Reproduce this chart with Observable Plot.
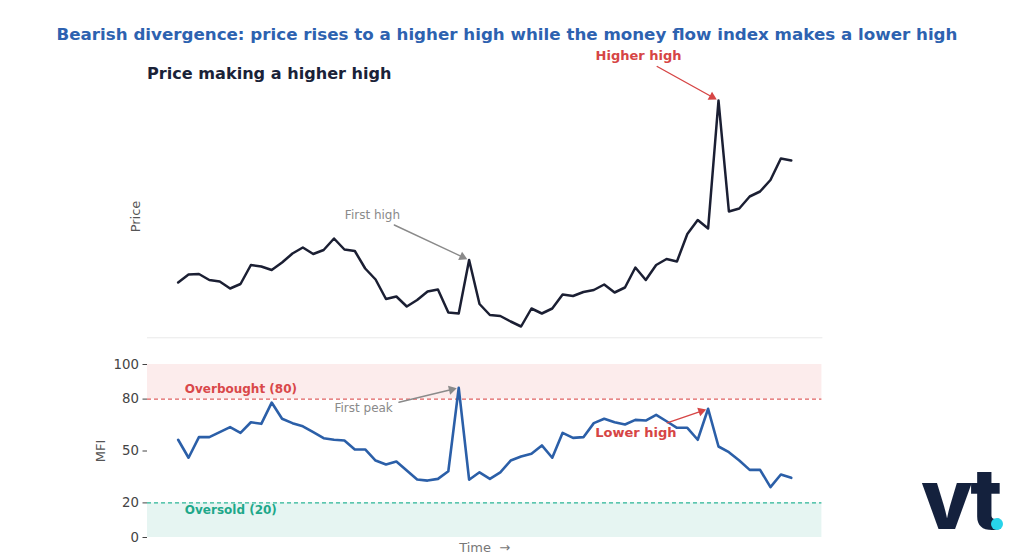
<!DOCTYPE html>
<html>
<head>
<meta charset="utf-8">
<script src="https://cdn.jsdelivr.net/npm/d3@7"></script>
<script src="https://cdn.jsdelivr.net/npm/@observablehq/plot@0.6"></script>
<style>
  html, body { margin: 0; padding: 0; background: #fff; }
  body { width: 1024px; height: 558px; position: relative; overflow: hidden; font-family: "DejaVu Sans", sans-serif; }
  .abs { position: absolute; }
  #title { top: 24px; left: 0; width: 1014px; text-align: center; font-weight: bold; font-size: 16.7px; line-height: 20px; color: #2d62b0; z-index: 5; white-space: nowrap; }
  #subtitle { top: 64px; left: 147px; font-weight: bold; font-size: 16.1px; line-height: 20px; color: #1a2238; z-index: 5; }
  #price { top: 40px; left: 0; }
  #mfi { top: 345px; left: 0; }
  #logo { top: 457px; left: 921px; font-family: Inter, sans-serif; font-weight: 800; font-size: 84px; line-height: 84px; color: #14213d; letter-spacing: -4px; z-index: 5; }
  #dot { top: 518px; left: 991px; width: 12px; height: 12px; border-radius: 50%; background: #27d3ea; z-index: 6; }
</style>
</head>
<body>
<div id="title" class="abs">Bearish divergence: price rises to a higher high while the money flow index makes a lower high</div>
<div id="subtitle" class="abs">Price making a higher high</div>
<div id="price" class="abs"></div>
<div id="mfi" class="abs"></div>
<div id="logo" class="abs">vt</div>
<div id="dot" class="abs"></div>
<script>
// ---- data ----
const price = [103.5,105.1,105.2,104.0,103.7,102.3,103.2,107.0,106.7,106.0,
  107.5,109.3,110.5,109.2,110.0,112.3,110.1,109.8,106.3,104.1,
  100.2,100.7,98.7,100.0,101.7,102.1,97.5,97.3,108.0,99.2,
  97.0,96.8,95.7,94.7,98.3,97.3,98.3,101.1,100.8,101.6,
  102.0,103.1,101.5,102.5,106.5,104.0,107.0,108.2,107.7,113.2,
  116.0,114.3,139.9,117.7,118.3,120.7,121.7,124.0,128.3,127.9];
const mfi = [56.5,46.1,58.0,58.0,60.9,63.8,60.5,66.6,65.7,78.0,
  68.6,66.1,64.3,60.9,57.4,56.5,56.1,50.9,50.9,44.5,
  42.2,43.9,38.7,33.5,32.9,33.9,38.3,86.5,33.4,37.7,
  33.9,37.7,44.5,46.8,48.4,53.2,46.1,60.5,57.6,58.0,
  66.1,68.6,66.6,65.3,68.0,67.6,70.9,67.2,63.4,63.4,
  56.5,74.4,52.6,49.3,44.5,39.1,39.1,29.1,36.4,34.5];
const mfiTicks = [0, 20, 50, 80, 100];

const levels = [
  {label: "Overbought (80)", level: 80, lo: 80, hi: 100, textY: 85.7, line: "#e06060", fill: "#fcecec", text: "#d9484a"},
  {label: "Oversold (20)", level: 20, lo: 0, hi: 20, textY: 15.9, line: "#2bb597", fill: "#e6f5f2", text: "#1ea88a"}
];

// annotations: text position and arrow start (data units), target index
const priceNotes = [
  {label: "First high", tx: 18.7, ty: 117.0, ax: 20.8, ay: 115.0, target: 28, color: "#8a8a8a", weight: "normal", size: 12},
  {label: "Higher high", tx: 44.3, ty: 148.9, ax: 46.1, ay: 146.7, target: 52, color: "#d64545", weight: "bold", size: 13}
];
const mfiNotes = [
  {label: "First peak", tx: 17.85, ty: 74.6, ax: 21.25, ay: 78.2, target: 27, color: "#8a8a8a", weight: "normal", size: 12},
  {label: "Lower high", tx: 44.05, ty: 60.7, ax: 47.06, ay: 66.3, target: 51, color: "#d64545", weight: "bold", size: 13}
];

// ---- scales ----
const n = price.length;
const idx = d3.range(n);
const xDomain = [-(n - 1) * 0.05, (n - 1) * 1.05];
const [pmin, pmax] = d3.extent(price);
const ppad = (pmax - pmin) * 0.05;
const yDomain = [pmin - ppad, pmax + ppad];

const W = 1024, ML = 147, MR = 1024 - 821.4;
const P = {height: 305, mt: 48.7, mb: 7.7};
const M = {height: 213, mt: 19, mb: 21};
const px = d3.scaleLinear(xDomain, [ML, W - MR]);
const pyPrice = d3.scaleLinear(yDomain, [P.height - P.mb, P.mt]);
const pyMfi = d3.scaleLinear([0, 100], [M.height - M.mb, M.mt]);

const priceRows = idx.map(i => ({i, v: price[i]}));
const mfiRows = idx.map(i => ({i, v: mfi[i]}));

function noteMarks(notes, series, py) {
  return notes.flatMap(d => {
    const sx = px(d.ax), sy = py(d.ay);
    const ex = px(d.target), ey = py(series[d.target]);
    const len = Math.hypot(ex - sx, ey - sy);
    const ux = (ex - sx) / len, uy = (ey - sy) / len;
    const inset = 2, r = 3.4;
    const A = Math.PI * r * r;
    const side = Math.sqrt(4 * A / Math.sqrt(3));
    const back = inset + side / Math.sqrt(3);
    const angle = Math.atan2(ux, -uy) * 180 / Math.PI;
    return [
      Plot.arrow([d], {x1: "ax", y1: "ay", x2: () => d.target, y2: () => series[d.target],
        stroke: d.color, strokeWidth: 1.4, headLength: 0, insetEnd: back + 2, clip: false}),
      Plot.dot([d], {x: () => d.target, y: () => series[d.target], symbol: "triangle", r, rotate: angle,
        fill: d.color, stroke: "none", dx: -ux * back, dy: -uy * back, clip: false}),
      Plot.text([d], {x: "tx", y: "ty", text: "label", fill: d.color, fontWeight: d.weight, fontSize: d.size, clip: false})
    ];
  });
}

const common = {
  width: W, marginLeft: ML, marginRight: MR,
  style: {background: "transparent", fontFamily: "DejaVu Sans, sans-serif", overflow: "visible"}
};

const pricePlot = Plot.plot({
  ...common,
  height: P.height, marginTop: P.mt, marginBottom: P.mb,
  x: {domain: xDomain, axis: null},
  y: {domain: yDomain, axis: null},
  marks: [
    Plot.frame({anchor: "bottom", stroke: "#e9e9e9", strokeWidth: 1}),
    Plot.line(priceRows, {x: "i", y: "v", stroke: "#1b1f33", strokeWidth: 2.5}),
    Plot.text(["Price"], {frameAnchor: "left", textAnchor: "middle", text: d => d, rotate: -90, dx: -12, dy: 3, fontSize: 13, fill: "#555"}),
    ...noteMarks(priceNotes, price, pyPrice)
  ]
});
document.getElementById("price").appendChild(pricePlot);

const mfiPlot = Plot.plot({
  ...common,
  height: M.height, marginTop: M.mt, marginBottom: M.mb,
  x: {domain: xDomain, axis: null},
  y: {domain: [0, 100], axis: null},
  marks: [
    Plot.rect(levels, {x1: () => xDomain[0], x2: () => xDomain[1], y1: "lo", y2: "hi", fill: "fill"}),
    Plot.ruleY(levels, {y: "level", stroke: "line", strokeWidth: 1.2, strokeDasharray: "4,3"}),
    Plot.axisY({ticks: mfiTicks, tickSize: 4.5, tickPadding: 4, fontSize: 13.3, color: "#444", label: null}),
    Plot.line(mfiRows, {x: "i", y: "v", stroke: "#2b5fa8", strokeWidth: 2.6}),
    ...levels.map(l => Plot.text([l], {x: () => 0.64, y: "textY", text: "label", fill: l.text, fontWeight: "bold", fontSize: 12, textAnchor: "start"})),
    Plot.text(["MFI"], {frameAnchor: "left", textAnchor: "middle", text: d => d, rotate: -90, dx: -47, fontSize: 13, fill: "#555"}),
    Plot.text(["Time  \u2192"], {frameAnchor: "bottom", text: d => d, dy: 14, fontSize: 13, fill: "#777"}),
    ...noteMarks(mfiNotes, mfi, pyMfi)
  ]
});
document.getElementById("mfi").appendChild(mfiPlot);
</script>
</body>
</html>
